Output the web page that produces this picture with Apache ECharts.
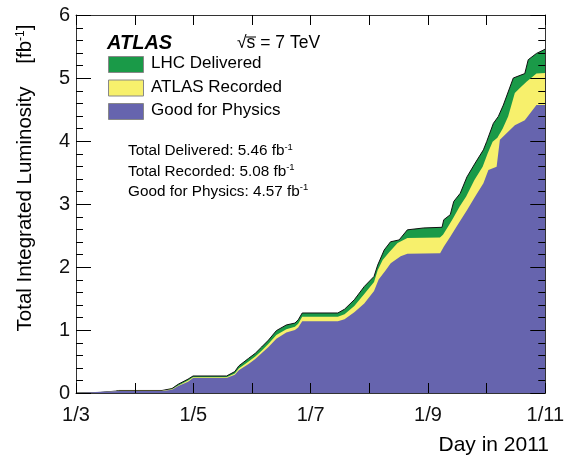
<!DOCTYPE html>
<html><head><meta charset="utf-8">
<script src="https://cdn.jsdelivr.net/npm/echarts@6/dist/echarts.min.js"></script>
<style>html,body{margin:0;padding:0;background:#fff}#c{width:567px;height:459px}</style>
</head><body><div id="c"></div>
<script>
// x values: days since 1 March 2011 (axis spans 1 Mar .. 1 Nov = 245 days)
const monthTickDays = [0, 31, 61, 92, 122, 153, 184, 214, 245];
const monthLabels = ['1/3', '', '1/5', '', '1/7', '', '1/9', '', '1/11'];
const yMajorTicks = [0, 1, 2, 3, 4, 5, 6];
const yMinorTicks = [0.2, 0.4, 0.6, 0.8, 1.2, 1.4, 1.6, 1.8, 2.2, 2.4, 2.6, 2.8, 3.2, 3.4, 3.6, 3.8, 4.2, 4.4, 4.6, 4.8, 5.2, 5.4, 5.6, 5.8];

const deliveredDays = [0, 12.9, 20.7, 22.3, 44.9, 50.1, 53.4, 58.5, 61.1, 78.6, 82.9, 85, 90.1, 93.6, 96.9, 100.5, 104.6, 109.8, 114.3, 116, 118.1, 136.7, 140.2, 145.3, 150.5, 155.6, 157.5, 160.9, 164.2, 168.7, 173, 181.6, 191.1, 192, 195.4, 197.2, 200.6, 204.1, 208.4, 212.7, 214.4, 217.9, 220.5, 223.1, 228.3, 234.3, 236.1, 240.4, 243.8, 245];
const deliveredLumi = [0, 0.01, 0.03, 0.04, 0.04, 0.07, 0.14, 0.22, 0.27, 0.27, 0.34, 0.43, 0.55, 0.63, 0.73, 0.84, 0.99, 1.08, 1.11, 1.16, 1.27, 1.27, 1.33, 1.48, 1.69, 1.85, 2.03, 2.27, 2.40, 2.43, 2.59, 2.62, 2.63, 2.75, 2.83, 3.04, 3.17, 3.43, 3.65, 3.86, 3.99, 4.28, 4.39, 4.57, 5.00, 5.07, 5.29, 5.39, 5.44, 5.46];

const recordedDays = [0, 12.9, 22.3, 44.9, 50.1, 53.4, 58.5, 61.1, 78.6, 82.9, 85, 90.1, 93.6, 96.9, 100.5, 104.6, 109.8, 114.3, 116, 118.1, 136.7, 140.2, 145.3, 150.5, 155.6, 157.5, 160.1, 163.6, 167.9, 173, 190, 191.6, 194.2, 196.8, 200.3, 203.7, 208, 212.3, 214.9, 217.5, 220, 222.8, 225.6, 229.1, 232, 235.2, 240.4, 245];
const recordedLumi = [0, 0.01, 0.035, 0.035, 0.06, 0.12, 0.20, 0.25, 0.25, 0.31, 0.39, 0.50, 0.58, 0.67, 0.78, 0.92, 1.01, 1.05, 1.10, 1.21, 1.21, 1.25, 1.38, 1.57, 1.76, 1.95, 2.11, 2.24, 2.38, 2.46, 2.47, 2.51, 2.64, 2.77, 2.96, 3.12, 3.38, 3.59, 3.80, 3.99, 4.05, 4.20, 4.39, 4.76, 4.85, 4.94, 5.07, 5.08];

const physicsDays = [0, 22.3, 44.9, 50.1, 53.4, 58.5, 61.1, 78.6, 82.9, 85, 90.1, 93.6, 96.9, 100.5, 104.6, 109.8, 114.3, 116, 118.1, 136.7, 140.2, 145.3, 150.5, 155.6, 158, 161.7, 164.3, 169.5, 173, 190.1, 192, 195.4, 199.7, 204.1, 208.4, 212.7, 215.3, 219.6, 221.3, 229.1, 234.3, 240.4, 245];
const physicsLumi = [0, 0.03, 0.03, 0.05, 0.11, 0.18, 0.24, 0.24, 0.29, 0.36, 0.46, 0.54, 0.63, 0.73, 0.86, 0.96, 1.00, 1.04, 1.14, 1.14, 1.17, 1.28, 1.42, 1.62, 1.80, 1.95, 2.06, 2.17, 2.21, 2.22, 2.32, 2.48, 2.69, 2.90, 3.12, 3.33, 3.54, 3.59, 4.02, 4.25, 4.33, 4.57, 4.57];

const legendNames = ['LHC Delivered', 'ATLAS Recorded', 'Good for Physics'];
const totalsText = ['Total Delivered: 5.46 fb', 'Total Recorded: 5.08 fb', 'Good for Physics: 4.57 fb'];

const colors = ['#1a9a48', '#f7f06c', '#6664ae'];
const FONT = 'Liberation Sans, Arial, sans-serif';
const XMAX = 245;
const XINT = XMAX / 8;

function pairs(xs, ys) { return xs.map((x, i) => [x, ys[i]]); }

const chart = echarts.init(document.getElementById('c'));

function ax(pos, isX, showLabel) {
  return {
    type: 'value', min: 0, max: isX ? XMAX : 6, interval: isX ? XINT : 1, position: pos, z: 10,
    axisLine: { show: true, onZero: false, lineStyle: { color: '#333', width: 1 } },
    axisTick: { show: false },
    minorTick: { show: false },
    axisLabel: showLabel ? {
      show: true, fontFamily: FONT, fontSize: 20, color: '#111', margin: isX ? 12 : 6,
      formatter: isX ? (v => monthLabels[Math.round(v / XINT)] || '') : (v => String(v)),
      showMinLabel: true, showMaxLabel: true
    } : { show: false },
    splitLine: { show: false }
  };
}

const tickStyle = { stroke: '#000', lineWidth: 1 };
function xTickRender(len) {
  return function (params, api) {
    const p = api.coord([api.value(0), 0]);
    const cs = params.coordSys;
    const x = Math.round(p[0]) + 0.5;
    const yb = cs.y + cs.height, yt = cs.y;
    return { type: 'group', children: [
      { type: 'line', shape: { x1: x, y1: yb, x2: x, y2: yb - len }, style: tickStyle },
      { type: 'line', shape: { x1: x, y1: yt, x2: x, y2: yt + len }, style: tickStyle }
    ] };
  };
}
function yTickRender(len) {
  return function (params, api) {
    const p = api.coord([0, api.value(1)]);
    const cs = params.coordSys;
    const y = Math.round(p[1]) + 0.5;
    const xl = cs.x, xr = cs.x + cs.width;
    return { type: 'group', children: [
      { type: 'line', shape: { x1: xl, y1: y, x2: xl + len, y2: y }, style: tickStyle },
      { type: 'line', shape: { x1: xr, y1: y, x2: xr - len, y2: y }, style: tickStyle }
    ] };
  };
}

const option = {
  animation: false,
  grid: { left: 76, right: 18, top: 15, bottom: 66 },
  xAxis: [ax('bottom', true, true), ax('top', true, false)],
  yAxis: [ax('left', false, true), ax('right', false, false)],
  series: [
    { name: legendNames[0], type: 'line', data: pairs(deliveredDays, deliveredLumi), symbol: 'none', smooth: false,
      lineStyle: { color: '#111', width: 1 }, areaStyle: { color: colors[0], opacity: 1 }, z: 2 },
    { name: legendNames[1], type: 'line', data: pairs(recordedDays, recordedLumi), symbol: 'none', smooth: false,
      lineStyle: { width: 0 }, areaStyle: { color: colors[1], opacity: 1 }, z: 3 },
    { name: legendNames[2], type: 'line', data: pairs(physicsDays, physicsLumi), symbol: 'none', smooth: false,
      lineStyle: { width: 0 }, areaStyle: { color: colors[2], opacity: 1 }, z: 4 },
    { type: 'custom', name: 'xTicks', silent: true, clip: false, z: 12, renderItem: xTickRender(10),
      data: monthTickDays.map(d => [d, 0]), encode: { x: 0, y: 1 } },
    { type: 'custom', name: 'yMajorTicks', silent: true, clip: false, z: 12, renderItem: yTickRender(15),
      data: yMajorTicks.map(v => [0, v]), encode: { x: 0, y: 1 } },
    { type: 'custom', name: 'yMinorTicks', silent: true, clip: false, z: 12, renderItem: yTickRender(7),
      data: yMinorTicks.map(v => [0, v]), encode: { x: 0, y: 1 } }
  ],
  graphic: [
    { type: 'text', left: 107, top: 33, style: { text: 'ATLAS', font: 'italic bold 20px ' + FONT, fill: '#000' } },
    { type: 'text', left: 237, top: 34, style: { text: '√s = 7 TeV', font: '17.5px ' + FONT, fill: '#000' } },
    { type: 'line', shape: { x1: 246, y1: 37, x2: 256, y2: 37 }, style: { stroke: '#000', lineWidth: 1 } },
    ...legendNames.map((n, i) => ({ type: 'rect', shape: { x: 108.5, y: 56.5 + i * 23.5, width: 35, height: 16 }, style: { fill: colors[i], stroke: '#888', lineWidth: 1 } })),
    ...legendNames.map((n, i) => ({ type: 'text', left: 151, top: 55 + i * 23.5, style: { text: n, font: '17px ' + FONT, fill: '#000' } })),
    ...totalsText.map((t, i) => ({ type: 'text', left: 128, top: 142 + i * 20.3, style: { text: '{a|' + t + '}{s|-1}', rich: { a: { font: '15.3px ' + FONT, fill: '#000' }, s: { font: '9.5px ' + FONT, fill: '#000', verticalAlign: 'top', padding: [0, 0, 8, 0] } } } })),
    { type: 'text', x: 25, y: 178, rotation: Math.PI / 2, style: { text: '{a|Total Integrated Luminosity    [fb}{s|-1}{a|]}', rich: { a: { font: '20.5px ' + FONT, fill: '#000' }, s: { font: '12px ' + FONT, fill: '#000', padding: [0, 0, 9, 0] } }, align: 'center', verticalAlign: 'middle' } },
    { type: 'text', right: 18, top: 435, style: { text: 'Day in 2011', font: '21px ' + FONT, fill: '#000' } }
  ]
};
chart.setOption(option);
</script></body></html>
